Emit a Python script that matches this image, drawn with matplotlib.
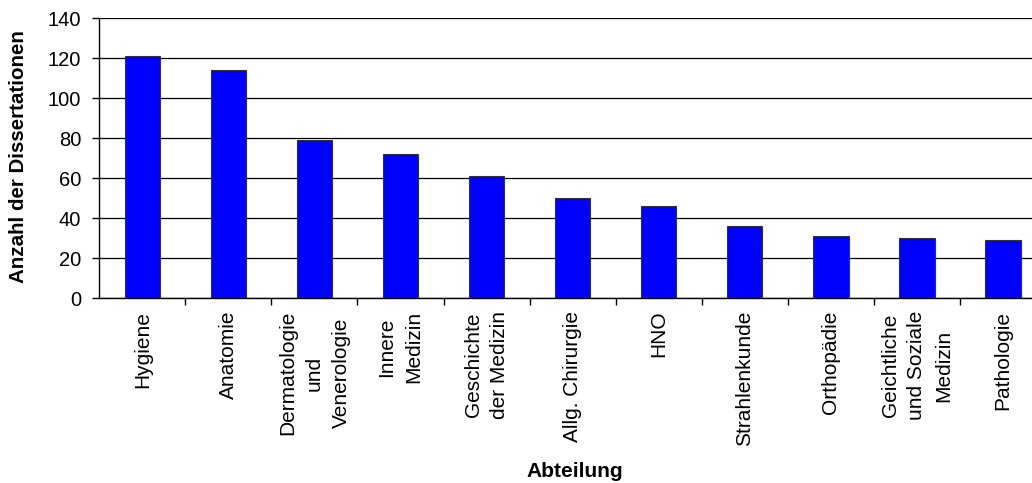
import matplotlib
matplotlib.use("Agg")
import matplotlib.pyplot as plt
import numpy as np

plt.rcParams['font.family'] = ['Liberation Sans', 'DejaVu Sans']

categories = [
    "Hygiene",
    "Anatomie",
    "Dermatologie\nund\nVenerologie",
    "Innere\nMedizin",
    "Geschichte\nder Medizin",
    "Allg. Chirurgie",
    "HNO",
    "Strahlenkunde",
    "Orthopädie",
    "Geichtliche\nund Soziale\nMedizin",
    "Pathologie",
]
counts = [121, 114, 79, 72, 61, 50, 46, 36, 31, 30, 29]
y_ticks = [0, 20, 40, 60, 80, 100, 120, 140]

fig = plt.figure(figsize=(10.32, 4.83), dpi=100)
ax = fig.add_axes([0.0962, 0.3824, 0.9174, 0.5797])

x = np.arange(len(categories))
ax.set_axisbelow(True)
ax.yaxis.grid(True, color='black', linewidth=0.9)
ax.bar(x, counts, width=0.41, color='#0000ff', edgecolor='#333333', linewidth=0.8, zorder=3)

ax.set_xlim(-0.5, len(categories) - 0.5)
ax.set_ylim(0, 140)
ax.set_yticks(y_ticks)
ax.set_yticklabels([str(v) for v in y_ticks], fontsize=14.5)

# category ticks sit between the bars, labels sit under the bars
ax.set_xticks(np.arange(len(categories) - 1) + 0.5)
ax.set_xticklabels([])
ax.tick_params(axis='x', which='major', length=5, width=1, direction='out')
ax.set_xticks(x, minor=True)
ax.set_xticklabels(categories, minor=True, rotation=90, fontsize=15,
                   ha='center', va='top', multialignment='center', linespacing=1.52)
ax.tick_params(axis='x', which='minor', length=0, pad=9)
ax.tick_params(axis='y', length=5, width=1, direction='out', pad=8)

for side in ['top', 'right']:
    ax.spines[side].set_visible(False)
ax.spines['left'].set_linewidth(1)
ax.spines['bottom'].set_linewidth(1)

fig.text(0.0175, 0.675, "Anzahl der Dissertationen", fontsize=14.8, fontweight='bold',
         rotation=90, ha='center', va='center')
fig.text(0.5565, 0.023, "Abteilung", fontsize=15, fontweight='bold', ha='center', va='center')

fig.savefig("out.png", dpi=100)
